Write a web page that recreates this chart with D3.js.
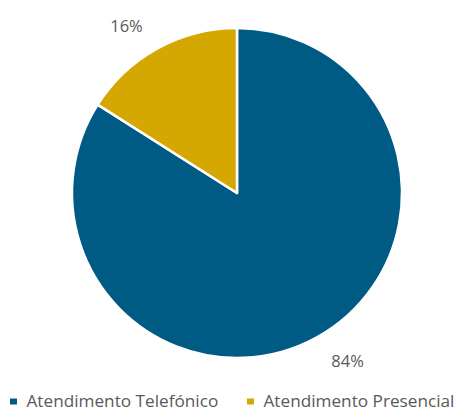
<!DOCTYPE html>
<html>
<head>
<meta charset="utf-8">
<script src="https://cdn.jsdelivr.net/npm/d3@7"></script>
<style>
  html, body { margin: 0; padding: 0; background: #fff; }
  svg { display: block; }
  text { font-family: "Open Sans", "Noto Sans", sans-serif; fill: #595959; }
</style>
</head>
<body>
<svg id="chart" width="462" height="412"></svg>
<script>
// Share of service channel
const categories = ["Atendimento Telefónico", "Atendimento Presencial"];
const values = [84, 16];
const labels = ["84%", "16%"];
const colors = ["#005B84", "#D4A800"];

const svg = d3.select("#chart");
const cx = 237, cy = 193, radius = 165;

const pie = d3.pie().sort(null).value(d => d.value);
const data = pie(categories.map((c, i) => ({ name: c, value: values[i], label: labels[i] })));

const arc = d3.arc().innerRadius(0).outerRadius(radius);
const labelArc = d3.arc().innerRadius(radius + 12).outerRadius(radius + 12);

const g = svg.append("g").attr("transform", `translate(${cx},${cy})`);

g.selectAll("path.slice")
  .data(data)
  .join("path")
  .attr("class", "slice")
  .attr("d", arc)
  .attr("fill", (d, i) => colors[i])
  .attr("stroke", "#fff")
  .attr("stroke-width", 2.5)
  .attr("stroke-linejoin", "round");

// Percent labels sit just outside the rim, pushed away from the slice
g.selectAll("text.pct")
  .data(data)
  .join("text")
  .attr("class", "pct")
  .style("font-size", "16.5px")
  .each(function (d) {
    const [x, y] = labelArc.centroid(d);
    const mid = (d.startAngle + d.endAngle) / 2;
    const right = Math.sin(mid) >= 0;
    const below = Math.cos(mid) < 0;
    d3.select(this)
      .attr("x", x + (right ? 9 : -9))
      .attr("y", y + (below ? 19 : -6))
      .attr("text-anchor", right ? "start" : "end")
      .text(d.data.label);
  });

// Legend
const legend = svg.append("g").attr("class", "legend");
const legendX = [10, 247];
categories.forEach((c, i) => {
  const item = legend.append("g").attr("transform", `translate(${legendX[i]},0)`);
  item.append("rect")
    .attr("x", 0).attr("y", 398.5)
    .attr("width", 7).attr("height", 6)
    .attr("fill", colors[i]);
  item.append("text")
    .attr("x", 16.5).attr("y", 407)
    .style("font-size", "17.2px")
    .text(c);
});
</script>
</body>
</html>
